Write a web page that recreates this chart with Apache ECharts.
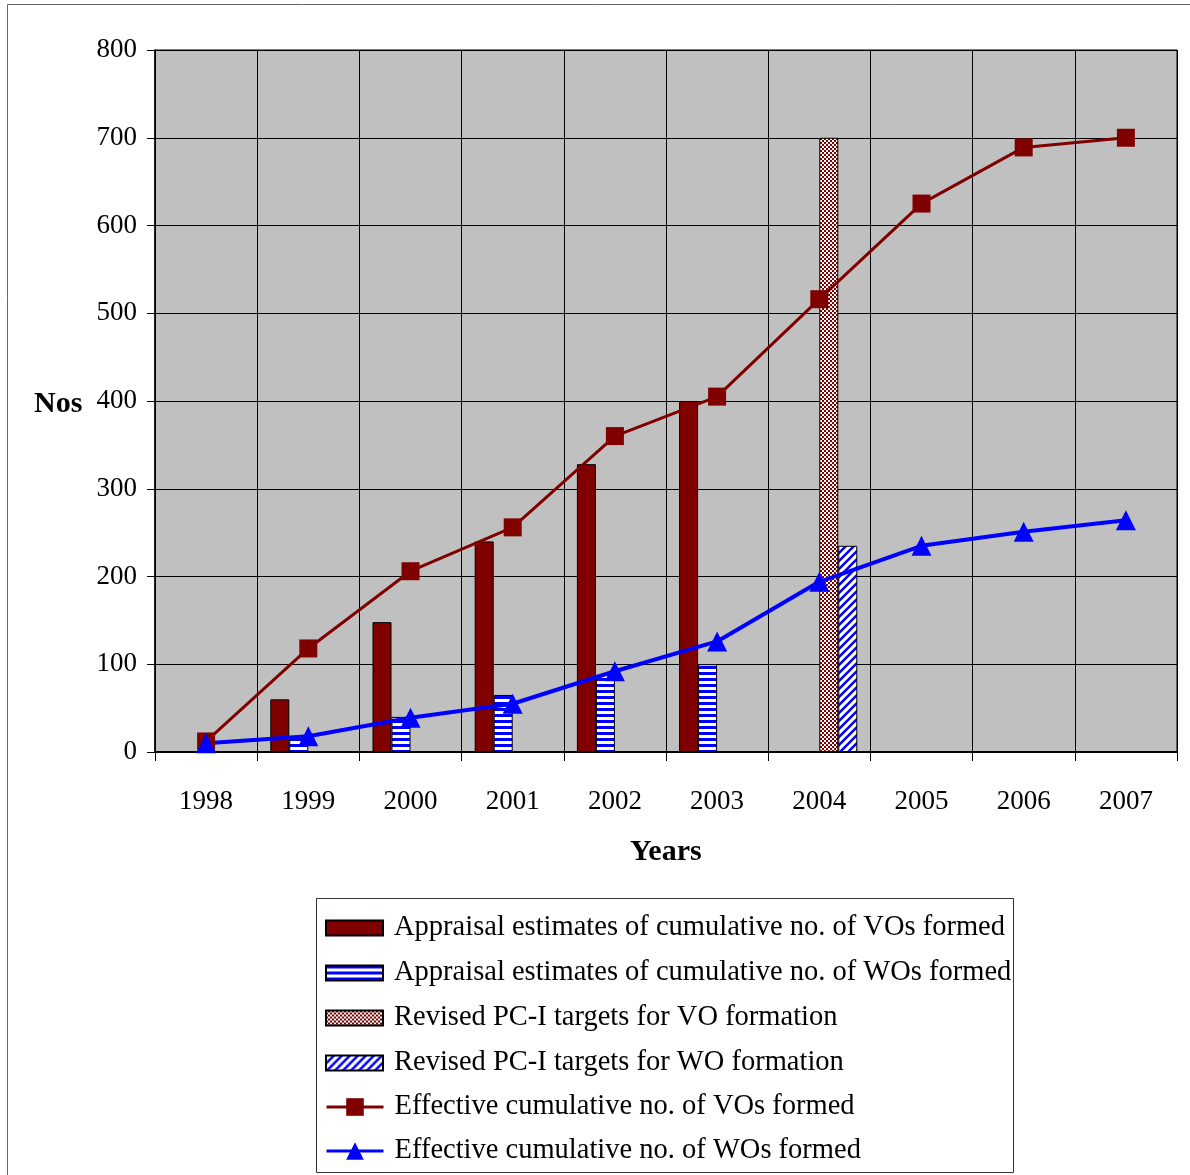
<!DOCTYPE html>
<html>
<head>
<meta charset="utf-8">
<script src="https://cdn.jsdelivr.net/npm/echarts@6/dist/echarts.min.js"></script>
<style>
  html, body { margin: 0; padding: 0; background: #fff; }
  #chart { width: 1190px; height: 1175px; }
</style>
</head>
<body>
<div id="chart"></div>
<script>
// data
var years = ['1998', '1999', '2000', '2001', '2002', '2003', '2004', '2005', '2006', '2007'];
var appraisalVO = [null, 60, 148, 240, 328, 400, null, null, null, null];
var appraisalWO = [null, 15, 40, 65, 88, 100, null, null, null, null];
var revisedVO = [null, null, null, null, null, null, 700, null, null, null];
var revisedWO = [null, null, null, null, null, null, 235, null, null, null];
var effectiveVO = [12, 118, 206, 256, 360, 405, 516, 625, 689, 700];
var effectiveWO = [10, 18, 39, 55, 92, 126, 194, 235, 251, 264];
var yTicks = [0, 100, 200, 300, 400, 500, 600, 700, 800];

var names = [
  'Appraisal estimates of cumulative no. of VOs formed',
  'Appraisal estimates of cumulative no. of WOs formed',
  'Revised PC-I targets for VO formation',
  'Revised PC-I targets for WO formation',
  'Effective cumulative no. of VOs formed',
  'Effective cumulative no. of WOs formed'
];

var FONT = '"Liberation Serif", "Times New Roman", serif';

// pattern fills
function makePattern(w, h, draw) {
  var c = document.createElement('canvas');
  c.width = w;
  c.height = h;
  draw(c.getContext('2d'));
  return { image: c, repeat: 'repeat' };
}
var hStripes = makePattern(6, 6, function(ctx) {
  ctx.fillStyle = '#fff';
  ctx.fillRect(0, 0, 6, 6);
  ctx.fillStyle = '#0000ff';
  ctx.fillRect(0, 0, 6, 3);
});
var checker = makePattern(4, 4, function(ctx) {
  ctx.fillStyle = '#800000';
  ctx.fillRect(0, 0, 4, 4);
  ctx.fillStyle = '#fff';
  ctx.fillRect(0, 0, 2, 2);
  ctx.fillRect(2, 2, 2, 2);
});
var diag = makePattern(8, 8, function(ctx) {
  ctx.fillStyle = '#fff';
  ctx.fillRect(0, 0, 8, 8);
  ctx.strokeStyle = '#0000ff';
  ctx.lineWidth = 2.5;
  ctx.beginPath();
  ctx.moveTo(-2, 10); ctx.lineTo(10, -2);
  ctx.moveTo(-6, 6); ctx.lineTo(6, -6);
  ctx.moveTo(2, 14); ctx.lineTo(14, 2);
  ctx.stroke();
});

var chart = echarts.init(document.getElementById('chart'));
var barBorder = { borderColor: '#000', borderWidth: 1 };
var legendText = { fontFamily: FONT, fontSize: 28.5, color: '#000', lineHeight: 30, padding: [0, 0, 0, 6] };

chart.setOption({
  backgroundColor: '#fff',
  animation: false,
  textStyle: { fontFamily: FONT },
  grid: {
    left: 155, right: 13, top: 50, bottom: 423,
    show: true, backgroundColor: '#c0c0c0', borderColor: '#000', borderWidth: 1
  },
  legend: [{
    // bar entries
    orient: 'vertical',
    left: 320,
    top: 908,
    itemWidth: 57,
    itemHeight: 15,
    itemGap: 15,
    textStyle: legendText,
    data: names.slice(0, 4).map(function(n) { return { name: n, icon: 'rect' }; })
  }, {
    // line entries
    orient: 'vertical',
    left: 320,
    top: 1087,
    itemWidth: 57,
    itemHeight: 22,
    itemGap: 14,
    lineStyle: { width: 3 },
    textStyle: legendText,
    data: names.slice(4)
  }],
  graphic: [
    { type: 'rect', shape: { x: 7.5, y: 4.5, width: 1200, height: 1200 },
      style: { fill: 'none', stroke: '#666', lineWidth: 1 }, silent: true, z: -1 },
    { type: 'rect', shape: { x: 316.5, y: 898.5, width: 697, height: 274 },
      style: { fill: 'none', stroke: '#333', lineWidth: 1 }, silent: true },
    { type: 'text', left: 34, top: 389,
      style: { text: 'Nos', font: 'bold 30px ' + FONT, fill: '#000' } },
    { type: 'text', left: 630, top: 837,
      style: { text: 'Years', font: 'bold 30px ' + FONT, fill: '#000' } }
  ],
  xAxis: {
    type: 'category',
    data: years,
    boundaryGap: true,
    axisLine: { lineStyle: { color: '#000', width: 2 } },
    axisTick: { show: true, length: 9, lineStyle: { color: '#000' } },
    axisLabel: { fontFamily: FONT, fontSize: 27, color: '#000', margin: 36 },
    splitLine: { show: true, lineStyle: { color: '#000', width: 1 } }
  },
  yAxis: {
    type: 'value',
    min: yTicks[0],
    max: yTicks[yTicks.length - 1],
    interval: 100,
    axisLine: { show: true, lineStyle: { color: '#000', width: 1.5 } },
    axisTick: { show: true, length: 8, lineStyle: { color: '#000' } },
    axisLabel: { fontFamily: FONT, fontSize: 27, color: '#000', margin: 18 },
    splitLine: { show: true, lineStyle: { color: '#000', width: 1 } }
  },
  series: [{
    name: names[0],
    type: 'bar',
    barWidth: 19,
    barGap: '0%',
    itemStyle: Object.assign({ color: '#800000' }, barBorder),
    data: appraisalVO
  }, {
    name: names[1],
    type: 'bar',
    barWidth: 19,
    barGap: '0%',
    itemStyle: Object.assign({ color: hStripes }, barBorder),
    data: appraisalWO
  }, {
    name: names[2],
    type: 'bar',
    barWidth: 19,
    barGap: '0%',
    itemStyle: Object.assign({ color: checker }, barBorder),
    data: revisedVO
  }, {
    name: names[3],
    type: 'bar',
    barWidth: 19,
    barGap: '0%',
    itemStyle: Object.assign({ color: diag }, barBorder),
    data: revisedWO
  }, {
    name: names[4],
    type: 'line',
    symbol: 'rect',
    symbolSize: 18,
    z: 5,
    lineStyle: { color: '#800000', width: 3 },
    itemStyle: { color: '#800000' },
    data: effectiveVO
  }, {
    name: names[5],
    type: 'line',
    symbol: 'triangle',
    symbolSize: 20,
    z: 5,
    lineStyle: { color: '#0000ff', width: 4 },
    itemStyle: { color: '#0000ff' },
    data: effectiveWO
  }]
});
</script>
</body>
</html>
